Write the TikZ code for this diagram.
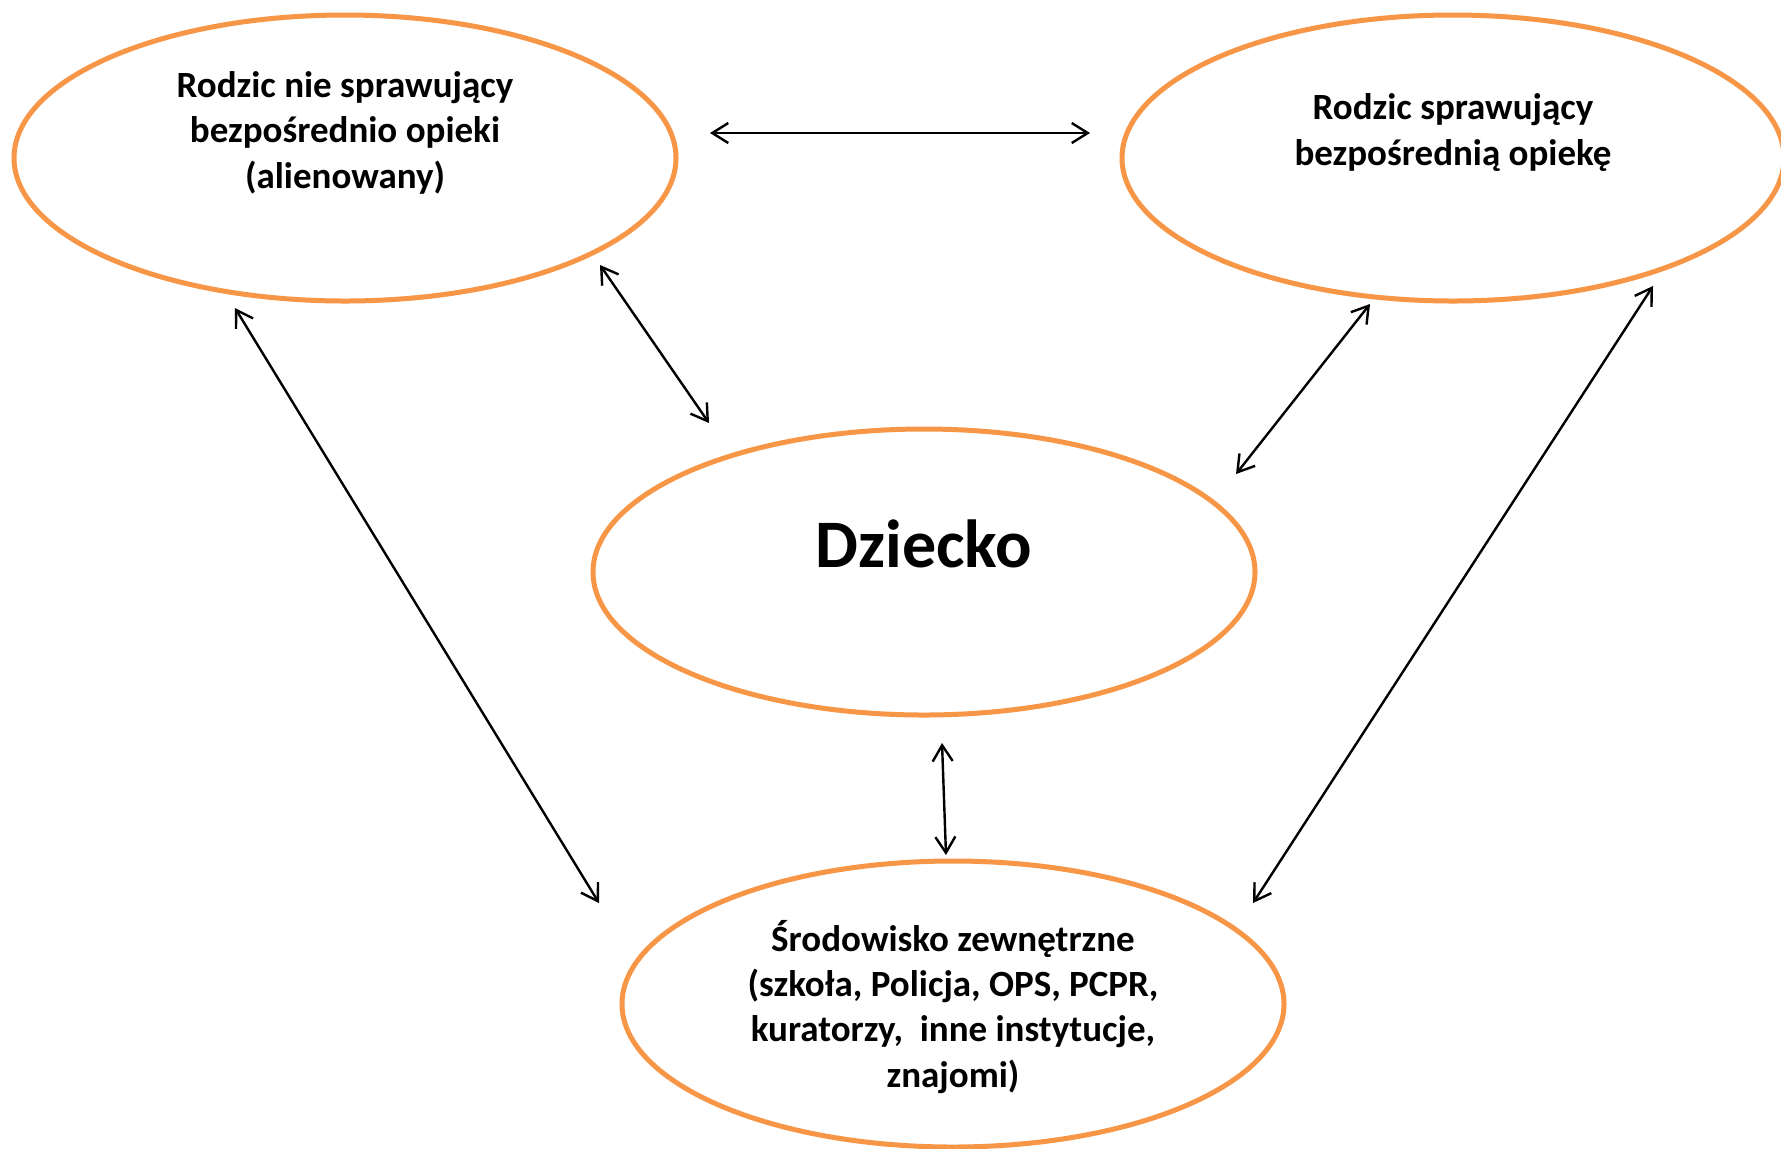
\documentclass[tikz,border=0pt]{standalone}
\usepackage{fontspec}
\setmainfont{Carlito}
\usetikzlibrary{shapes.geometric,arrows.meta}
\definecolor{ellorange}{HTML}{F79646}
\tikzset{
  ell/.style={draw=ellorange, line width=2.5pt, ellipse, inner sep=0pt,
    minimum width=331pt, minimum height=143pt},
  lbl/.style={font=\fontsize{18.5pt}{22.6pt}\selectfont\bfseries, align=center, inner sep=0pt},
  big/.style={font=\fontsize{34pt}{40pt}\selectfont\bfseries, inner sep=0pt},
  link/.style={black, line width=1.2pt,
    {Straight Barb[length=8pt,width=10pt,line width=1.2pt]}-{Straight Barb[length=8pt,width=10pt,line width=1.2pt]}}
}
\begin{document}
\begin{tikzpicture}[x=0.5pt,y=-0.5pt]
\fill[white] (0,0) rectangle (1781,1148);
\useasboundingbox (0,0) rectangle (1781,1148);
\clip (0,0) rectangle (1781,1148);
% ellipses
\node[ell] (tl) at (345,158) {};
\node[ell] (tr) at (1453,158) {};
\node[ell] (c) at (924,572) {};
\node[ell] (b) at (953,1004) {};
% texts (base anchor = baseline of the last line)
\node[lbl, anchor=base] (tlt) at (345,188) {Rodzic nie sprawujący\\bezpośrednio opieki\\(alienowany)};
\node[lbl, anchor=base] (trt) at (1453,165) {Rodzic sprawujący\\bezpośrednią opiekę};
\node[big, anchor=base] (ct) at (924,567) {Dziecko};
\node[lbl, anchor=base] (bt) at (953,1087) {Środowisko zewnętrzne\\(szkoła, Policja, OPS, PCPR,\\kuratorzy,\ \ inne instytucje,\\znajomi)};
% arrow end points
\coordinate (h1) at (710,133);
\coordinate (h2) at (1090,133);
\coordinate (a1) at (600,265);
\coordinate (a2) at (709,423);
\coordinate (r1) at (1370,304);
\coordinate (r2) at (1236,474);
\coordinate (l1) at (235,308);
\coordinate (l2) at (599,903);
\coordinate (q1) at (1653,286);
\coordinate (q2) at (1253,903);
\coordinate (v1) at (942,743);
\coordinate (v2) at (946,855);
% arrows
\draw[link] (h1) -- (h2);
\draw[link] (a1) -- (a2);
\draw[link] (r1) -- (r2);
\draw[link] (l1) -- (l2);
\draw[link] (q1) -- (q2);
\draw[link] (v1) -- (v2);
\end{tikzpicture}
\end{document}
